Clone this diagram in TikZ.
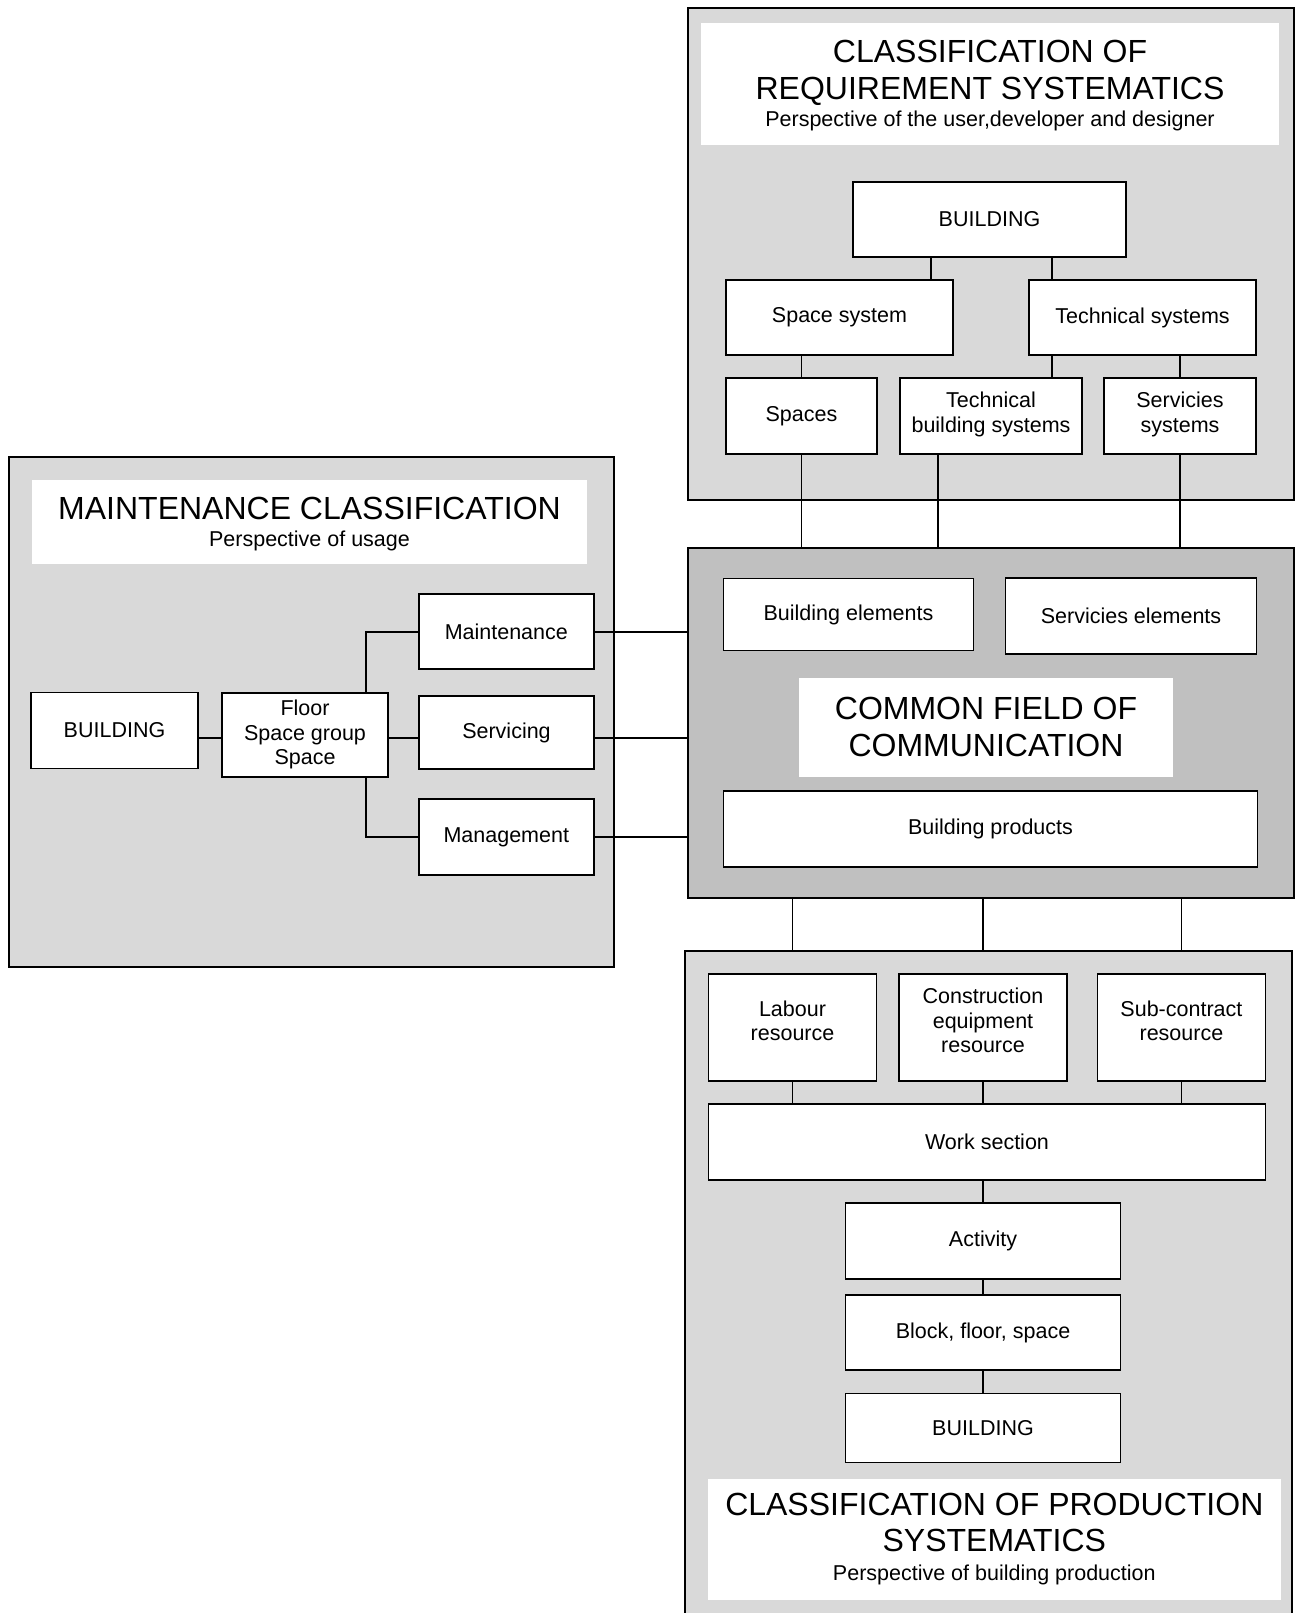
\documentclass[tikz,border=0pt]{standalone}
\usepackage{fontspec}
\setmainfont{Liberation Sans}
\newcommand\boxfont{\fontsize{21.5}{24.5}\selectfont}
\newcommand\headfont{\fontsize{32}{36.8}\selectfont}
% shift a stacked label up or down without changing the size it takes up
\newcommand\liftedlines[2]{\raisebox{#1}[\height][\depth]{\begin{tabular}{@{}c@{}}#2\end{tabular}}}
\definecolor{panelgray}{HTML}{D9D9D9}
\definecolor{commongray}{HTML}{C0C0C0}
\tikzset{
  box/.style={draw, line width=1.7pt, fill=white, inner sep=0pt, align=center, font=\boxfont},
  panel/.style={draw, line width=1.7pt, fill=panelgray, inner sep=0pt},
  headbox/.style={fill=white, inner sep=0pt, align=center, font=\headfont},
  link/.style={line width=1.7pt},
}
\begin{document}
\begin{tikzpicture}[x=1pt, y=-1pt]
\useasboundingbox (0,0) rectangle (1297,1613);

% ---------- requirement systematics panel ----------
\node[panel, minimum width=606, minimum height=492] (rq) at (991,254) {};
\node[headbox, minimum width=578, minimum height=122] (rqt) at (990,84)
  {\liftedlines{-3pt}{\headfont CLASSIFICATION OF\\ \headfont REQUIREMENT SYSTEMATICS\\[-10pt] \boxfont Perspective of the user,developer and designer}};
\node[box, minimum width=273, minimum height=75] (rqb) at (989.5,219.5) {BUILDING};
\node[box, minimum width=227, minimum height=75] (spsys) at (839.5,317.5) {Space system};
\node[box, minimum width=227, minimum height=75] (techsys) at (1142.5,317.5) {Technical systems};
\node[box, minimum width=151, minimum height=76] (spaces) at (801.5,416) {Spaces};
\node[box, minimum width=182, minimum height=76] (tbs) at (991,416) {\liftedlines{1pt}{Technical\\building systems}};
\node[box, minimum width=152, minimum height=76] (servsys) at (1180,416) {\liftedlines{1pt}{Servicies\\systems}};

\coordinate (xa) at (931,0);
\coordinate (xb) at (1052,0);
\coordinate (xc) at (938,0);
\draw[link] (rqb.south -| xa) -- (spsys.north -| xa);
\draw[link] (rqb.south -| xb) -- (techsys.north -| xb);
\draw[link] (spsys.south -| spaces.center) -- (spaces.north);
\draw[link] (techsys.south -| xb) -- (tbs.north -| xb);
\draw[link] (techsys.south -| servsys.center) -- (servsys.north);

% ---------- common field of communication ----------
\node[panel, fill=commongray, minimum width=606, minimum height=350] (cf) at (991,723) {};
\node[box, minimum width=250, minimum height=72] (be) at (848.5,614.5) {Building elements};
\node[box, minimum width=251, minimum height=76] (se) at (1131,616.3) {Servicies elements};
\node[headbox, minimum width=374, minimum height=99] (cft) at (986,727)
  {COMMON FIELD OF\\ COMMUNICATION};
\node[box, minimum width=534, minimum height=76] (bp) at (990.5,829) {Building products};

\draw[link] (spaces.south) -- (spaces.south |- cf.north);
\draw[link] (tbs.south -| xc) -- (cf.north -| xc);
\draw[link] (servsys.south) -- (servsys.south |- cf.north);

% ---------- maintenance panel ----------
\node[panel, minimum width=605, minimum height=510] (lo) at (311.5,712) {};
\node[headbox, minimum width=555, minimum height=84] (lot) at (309.5,522)
  {\liftedlines{-3.5pt}{\headfont MAINTENANCE CLASSIFICATION\\[-10pt] \boxfont Perspective of usage}};
\node[box, minimum width=167, minimum height=76] (lb) at (114.5,730.5) {BUILDING};
\node[box, minimum width=166, minimum height=84] (fl) at (305,734.7) {Floor\\Space group\\Space};
\node[box, minimum width=175, minimum height=75] (mt) at (506.3,631.7) {Maintenance};
\node[box, minimum width=175, minimum height=73] (sv) at (506.5,732.5) {Servicing};
\node[box, minimum width=175, minimum height=76] (mg) at (506.3,837.2) {Management};

\coordinate (mid) at (0,738);
\coordinate (fork) at (366,0);
\draw[link] (lb.east |- mid) -- (fl.west |- mid);
\draw[link] (fl.east |- mid) -- (sv.west |- mid);
\draw[link] (fl.north -| fork) |- (mt.west);
\draw[link] (fl.south -| fork) |- (mg.west);
\draw[link] (mt.east) -- (mt.east -| cf.west);
\draw[link] (sv.east |- mid) -- (cf.west |- mid);
\draw[link] (mg.east) -- (mg.east -| cf.west);

% ---------- production systematics panel (runs off the lower edge) ----------
\node[fill=panelgray, inner sep=0pt, minimum width=607, minimum height=700] (pd) at (988.5,1301) {};
\draw[link] (pd.south west) -- (pd.north west) -- (pd.north east) -- (pd.south east);
\node[box, minimum width=168, minimum height=107] (lab) at (792.5,1027.7) {\liftedlines{4pt}{Labour\\resource}};
\node[box, minimum width=168, minimum height=107] (ceq) at (983,1027.7) {\liftedlines{4.5pt}{Construction\\equipment\\resource}};
\node[box, minimum width=168, minimum height=107] (sub) at (1181.4,1027.7) {\liftedlines{4pt}{Sub-contract\\resource}};
\node[box, minimum width=557, minimum height=76] (ws) at (987,1142) {Work section};
\node[box, minimum width=275, minimum height=76] (act) at (983,1240.8) {Activity};
\node[box, minimum width=275, minimum height=75] (blk) at (983,1332.6) {Block, floor, space};
\node[box, minimum width=275, minimum height=69] (pbld) at (983,1428) {BUILDING};
\node[headbox, minimum width=573, minimum height=121] (pdt) at (994.3,1539)
  {CLASSIFICATION OF PRODUCTION\\ SYSTEMATICS\\[-8pt] \boxfont Perspective of building production};

\draw[link] (cf.south -| lab.center) -- (pd.north -| lab.center);
\draw[link] (cf.south -| ceq.center) -- (pd.north -| ceq.center);
\draw[link] (cf.south -| sub.center) -- (pd.north -| sub.center);
\draw[link] (lab.south) -- (lab.south |- ws.north);
\draw[link] (ceq.south) -- (ceq.south |- ws.north);
\draw[link] (sub.south) -- (sub.south |- ws.north);
\draw[link] (act.north |- ws.south) -- (act.north);
\draw[link] (act.south) -- (blk.north);
\draw[link] (blk.south) -- (pbld.north);
\end{tikzpicture}
\end{document}
